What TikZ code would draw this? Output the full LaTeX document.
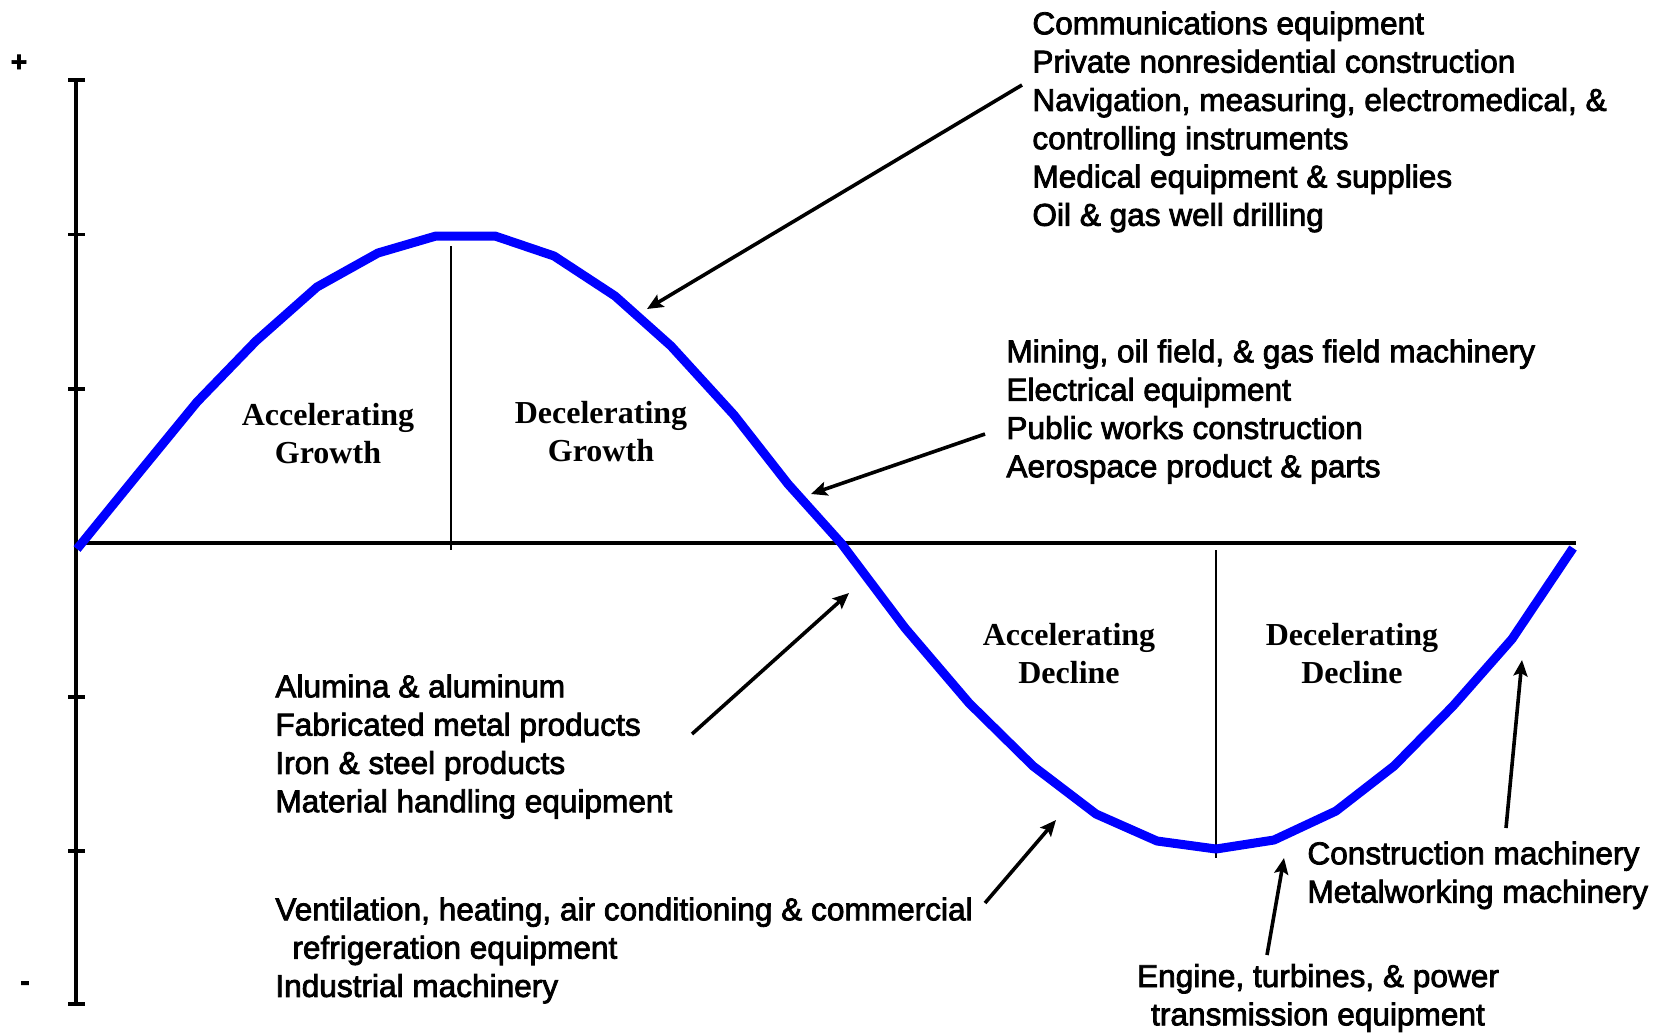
\documentclass[tikz,border=0pt]{standalone}
\usepackage{fontspec}
\setmainfont{Liberation Serif}
\newfontfamily\listfont[FakeBold=2.5]{Liberation Sans}
\usetikzlibrary{arrows.meta}

\begin{document}
\begin{tikzpicture}[x=0.5pt, y=-0.5pt,
    axis/.style={line width=1.8pt},
    divider/.style={line width=1.2pt},
    wave/.style={draw=blue, line width=4.5pt, line join=round},
    pointer/.style={line width=1.8pt, -{Stealth[length=8pt,width=7pt,inset=1.5pt]}},
    phase/.style={font=\bfseries\fontsize{16}{19}\selectfont, align=center, inner sep=0pt},
    sectors/.style={font=\listfont\fontsize{15.8}{19.15}\selectfont, align=left, anchor=north west, inner sep=0pt}]
    \useasboundingbox (0,0) rectangle (1669,1033);

    % axes
    \draw[axis] (76,80) -- (76,1004);
    \draw[axis] (76,543) -- (1576,543);
    \foreach \y in {80,234.5,389,697,851,1004}
        \draw[axis] (68,\y) -- (85,\y);
    \node[font=\listfont\bfseries\fontsize{14}{14}\selectfont] (plus) at (19,63) {+};
    \node[font=\listfont\bfseries\fontsize{14}{14}\selectfont] (minus) at (25,986) {-};

    % phase dividers
    \draw[divider] (451,246) -- (451,550);
    \draw[divider] (1216,550) -- (1216,858);

    % the cycle
    \draw[wave] plot coordinates {(77,549) (138,474) (197,402) (256,341) (317,287)
        (378,253) (436,236) (495,236) (554,256) (615,296) (671,346) (734,415)
        (788,484) (841,543) (905,628) (969,703) (1033,766) (1096,814) (1157,841)
        (1216,849) (1274,840) (1336,811) (1394,766) (1453,706) (1512,639) (1573,548)};

    % phase labels
    \node[phase] (accgrowth) at (328,434) {Accelerating\\Growth};
    \node[phase] (decgrowth) at (601,432) {Decelerating\\Growth};
    \node[phase] (accdecline) at (1069,654) {Accelerating\\Decline};
    \node[phase] (decdecline) at (1352,654) {Decelerating\\Decline};

    % industry lists
    \node[sectors] (comm) at (1032,11) {Communications equipment\\
        Private nonresidential construction\\
        Navigation, measuring, electromedical, \&\\
        controlling instruments\\
        Medical equipment \& supplies\\
        Oil \& gas well drilling};
    \node[sectors] (mining) at (1006,339) {Mining, oil field, \& gas field machinery\\
        Electrical equipment\\
        Public works construction\\
        Aerospace product \& parts};
    \node[sectors] (alumina) at (275,674) {Alumina \& aluminum\\
        Fabricated metal products\\
        Iron \& steel products\\
        Material handling equipment};
    \node[sectors] (vent) at (275,897) {Ventilation, heating, air conditioning \& commercial\\
        \hspace*{8.5pt}refrigeration equipment\\
        Industrial machinery};
    \node[sectors] (constr) at (1307,841) {Construction machinery\\
        Metalworking machinery};
    \node[sectors, align=center, anchor=center] (engine) at (1318,998) {Engine, turbines, \& power\\
        transmission equipment};

    % pointers to the curve
    \coordinate (commtail) at (1022,85);
    \coordinate (commtip) at (647,309);
    \coordinate (miningtail) at (985,434);
    \coordinate (miningtip) at (811,494);
    \coordinate (aluminatail) at (692,734);
    \coordinate (aluminatip) at (849,593);
    \coordinate (venttail) at (985,903);
    \coordinate (venttip) at (1056,820);
    \coordinate (constrtail) at (1506,828);
    \coordinate (constrtip) at (1522,660);
    \coordinate (enginetail) at (1267,955);
    \coordinate (enginetip) at (1284,858);
    \draw[pointer] (commtail) -- (commtip);
    \draw[pointer] (miningtail) -- (miningtip);
    \draw[pointer] (aluminatail) -- (aluminatip);
    \draw[pointer] (venttail) -- (venttip);
    \draw[pointer] (constrtail) -- (constrtip);
    \draw[pointer] (enginetail) -- (enginetip);
\end{tikzpicture}
\end{document}
